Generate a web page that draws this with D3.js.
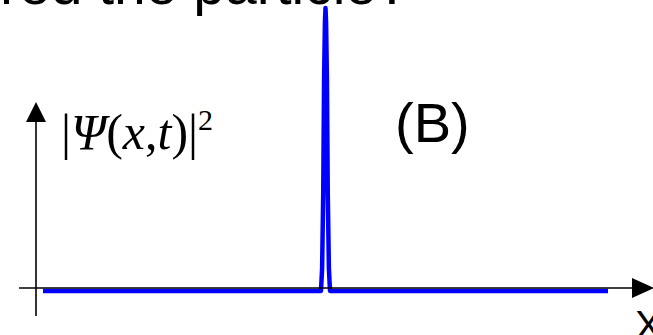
<!DOCTYPE html>
<html>
<head>
<meta charset="utf-8">
<script src="https://cdn.jsdelivr.net/npm/d3@7"></script>
<style>
  body { margin: 0; background: #fff; }
</style>
</head>
<body>
<div id="chart"></div>
<script>
// position along x (arbitrary units) and |psi|^2 (normalised)
const xVals = [-10, -0.16, -0.12, -0.08, -0.05, -0.02, 0, 0.02, 0.05, 0.08, 0.12, 0.16, 10];
const psiVals = [0, 0, 0.08, 0.35, 0.75, 0.95, 1, 0.95, 0.75, 0.35, 0.08, 0, 0];
const titleText = "red the particle?";
const panelLabel = "(B)";
const xLabel = "X";

const width = 653, height = 335;

const svg = d3.select("#chart")
    .append("svg")
    .attr("width", width)
    .attr("height", height);

svg.append("rect")
    .attr("width", width)
    .attr("height", height)
    .attr("fill", "white");

const x = d3.scaleLinear().domain([-10, 10]).range([43, 608]);
const y = d3.scaleLinear().domain([0, 1]).range([291, 8]);

const data = xVals.map((v, i) => ({x: v, p: psiVals[i]}));

// the wave packet
const line = d3.line()
    .x(d => x(d.x))
    .y(d => y(d.p));

svg.append("path")
    .datum(data)
    .attr("d", line)
    .attr("fill", "none")
    .attr("stroke", "#0000ff")
    .attr("stroke-width", 4.5)
    .attr("stroke-linejoin", "round");

// axes with arrow heads
const axisY = y(0) - 3;
svg.append("line")
    .attr("x1", 19).attr("x2", 634)
    .attr("y1", axisY).attr("y2", axisY)
    .attr("stroke", "black")
    .attr("stroke-width", 1.6);
svg.append("path")
    .attr("d", "M632," + (axisY - 10) + "L654," + axisY + "L632," + (axisY + 10) + "Z")
    .attr("fill", "black");

svg.append("line")
    .attr("x1", 36).attr("x2", 36)
    .attr("y1", 118).attr("y2", 316)
    .attr("stroke", "black")
    .attr("stroke-width", 1.6);
svg.append("path")
    .attr("d", "M26,122L36,102L46,122Z")
    .attr("fill", "black");

// y label |Psi(x,t)|^2
const lab = svg.append("text")
    .attr("x", 61)
    .attr("y", 149)
    .style("font-family", "'Liberation Serif', 'Times New Roman', serif")
    .style("font-size", "50px")
    .attr("fill", "black");
[["|", false], ["\u03A8", true], ["(", false], ["x", true], [",", false], ["t", true], [")", false], ["|", false]]
    .forEach(function(p) {
        lab.append("tspan")
            .style("font-style", p[1] ? "italic" : "normal")
            .text(p[0]);
    });
lab.append("tspan")
    .attr("dy", -19)
    .style("font-size", "30px")
    .text("2");

svg.append("text")
    .attr("x", 395)
    .attr("y", 142)
    .style("font-family", "'Liberation Sans', Arial, sans-serif")
    .style("font-size", "56px")
    .attr("fill", "black")
    .text(panelLabel);

svg.append("text")
    .attr("x", 0)
    .attr("y", 4)
    .style("font-family", "'Liberation Sans', Arial, sans-serif")
    .style("font-size", "57px")
    .attr("fill", "black")
    .text(titleText);

svg.append("text")
    .attr("x", 635)
    .attr("y", 339)
    .style("font-family", "'Liberation Sans', Arial, sans-serif")
    .style("font-size", "40px")
    .attr("fill", "black")
    .text(xLabel);
</script>
</body>
</html>
